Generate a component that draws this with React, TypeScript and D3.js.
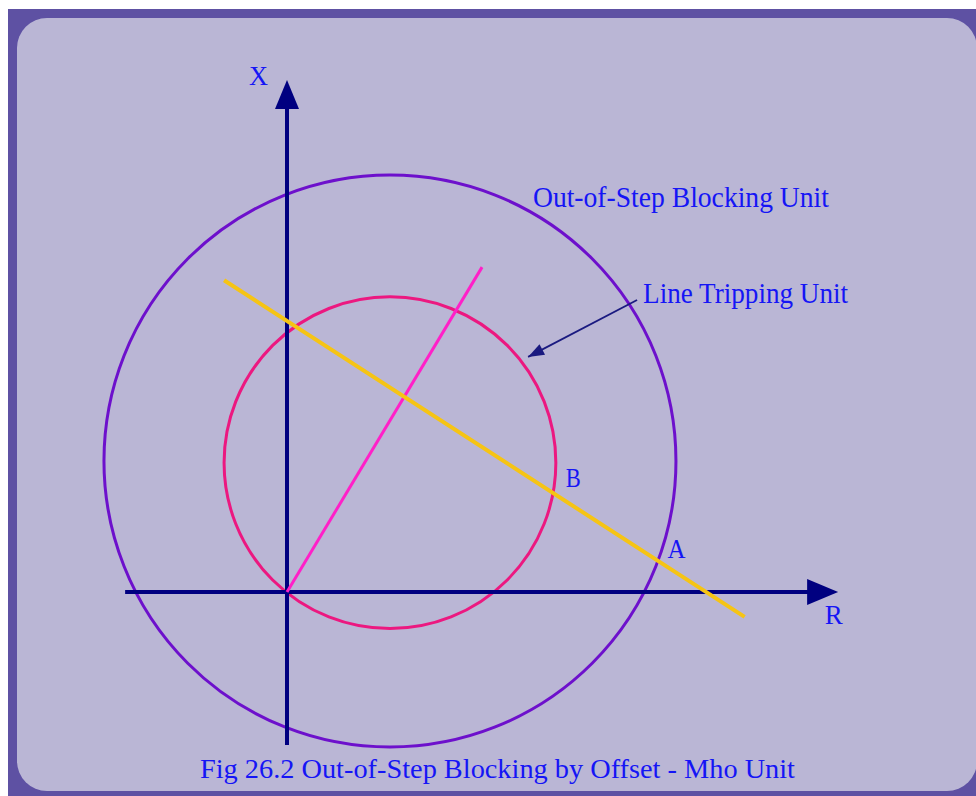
import * as d3 from 'd3';

// R-X impedance plane, values in "ohm" units (big circle radius = 10)
const blockingCircle = { cx: 3.6, cy: 4.58, r: 10 };
const trippingCircle = { cx: 3.6, cy: 4.52, r: 5.8 };
const impedanceLine = [[0, 0], [6.82, 11.36]];
const swingLine = [[-2.2, 10.9], [16.0, -0.87]];
const rAxis = [-5.66, 19.27];
const xAxis = [-5.35, 17.9];
const pointer = [[12.24, 10.21], [8.43, 8.22]];

const labels = [
  { text: 'X', at: [-1.33, 17.72], size: 27, len: 19 },
  { text: 'R', at: [18.8, -1.12], size: 27, len: 18 },
  { text: 'B', at: [9.75, 3.68], size: 27, len: 15 },
  { text: 'A', at: [13.3, 1.19], size: 27, len: 18 },
  { text: 'Out-of-Step Blocking Unit', at: [8.6, 13.46], size: 28.5, len: 296 },
  { text: 'Line Tripping Unit', at: [12.45, 10.1], size: 28.5, len: 205 },
];
const caption = 'Fig 26.2 Out-of-Step Blocking by Offset - Mho Unit';

export default function App() {
  const width = 976;
  const height = 796;
  const unit = 28.6;
  const x = d3.scaleLinear().domain([0, 1]).range([287, 287 + unit]);
  const y = d3.scaleLinear().domain([0, 1]).range([592, 592 - unit]);
  const line = d3.line<number[]>().x(d => x(d[0])).y(d => y(d[1]));

  const navy = '#000080';
  const blue = '#1515f5';

  // arrow heads
  const rTip = x(rAxis[1]);
  const xTip = y(xAxis[1]);
  const [p0, p1] = pointer;
  const ang = Math.atan2(y(p1[1]) - y(p0[1]), x(p1[0]) - x(p0[0]));
  const hx = x(p1[0]), hy = y(p1[1]);
  const hl = 16, hw = 6;
  const headPts = [
    [hx, hy],
    [hx - hl * Math.cos(ang) + hw * Math.sin(ang), hy - hl * Math.sin(ang) - hw * Math.cos(ang)],
    [hx - hl * Math.cos(ang) - hw * Math.sin(ang), hy - hl * Math.sin(ang) + hw * Math.cos(ang)],
  ];

  return (
    <>
      <style>{`body{margin:0;overflow:hidden}`}</style>
      <svg width={width} height={height} style={{ display: 'block' }}
        fontFamily="'Liberation Serif', 'Times New Roman', serif">
        <rect x={0} y={0} width={width} height={height} fill="#ffffff" />
        <rect x={8} y={9} width={width} height={height} fill="#5e51a3" />
        <rect x={17} y={18} width={960} height={773} rx={30} fill="#bab6d5" />

        {/* circles */}
        <circle cx={x(blockingCircle.cx)} cy={y(blockingCircle.cy)} r={blockingCircle.r * unit}
          fill="none" stroke="#6d10cc" strokeWidth={3} />
        <circle cx={x(trippingCircle.cx)} cy={y(trippingCircle.cy)} r={trippingCircle.r * unit}
          fill="none" stroke="#ec1880" strokeWidth={3} />

        {/* axes */}
        <line x1={x(rAxis[0])} y1={y(0)} x2={rTip - 28} y2={y(0)} stroke={navy} strokeWidth={4} />
        <polygon points={`${rTip},${y(0)} ${rTip - 31},${y(0) - 13} ${rTip - 31},${y(0) + 13}`} fill={navy} />
        <line x1={x(0)} y1={y(xAxis[0])} x2={x(0)} y2={xTip + 26} stroke={navy} strokeWidth={4} />
        <polygon points={`${x(0)},${xTip} ${x(0) - 12},${xTip + 29} ${x(0) + 12},${xTip + 29}`} fill={navy} />

        {/* impedance and swing lines */}
        <path d={line(impedanceLine) || ''} stroke="#ff20c8" strokeWidth={3} fill="none" />
        <path d={line(swingLine) || ''} stroke="#f6c414" strokeWidth={4} fill="none" />

        {/* pointer */}
        <path d={line(pointer) || ''} stroke="#1a1a80" strokeWidth={1.8} fill="none" />
        <polygon points={headPts.map(p => p.join(',')).join(' ')} fill="#1a1a80" />

        {labels.map(l => (
          <text key={l.text} x={x(l.at[0])} y={y(l.at[1])} fill={blue} fontSize={l.size}
            textLength={l.len} lengthAdjust="spacingAndGlyphs">{l.text}</text>
        ))}
        <text x={200} y={778} fill={blue} fontSize={27} textLength={595}
          lengthAdjust="spacingAndGlyphs">{caption}</text>
      </svg>
    </>
  );
}
